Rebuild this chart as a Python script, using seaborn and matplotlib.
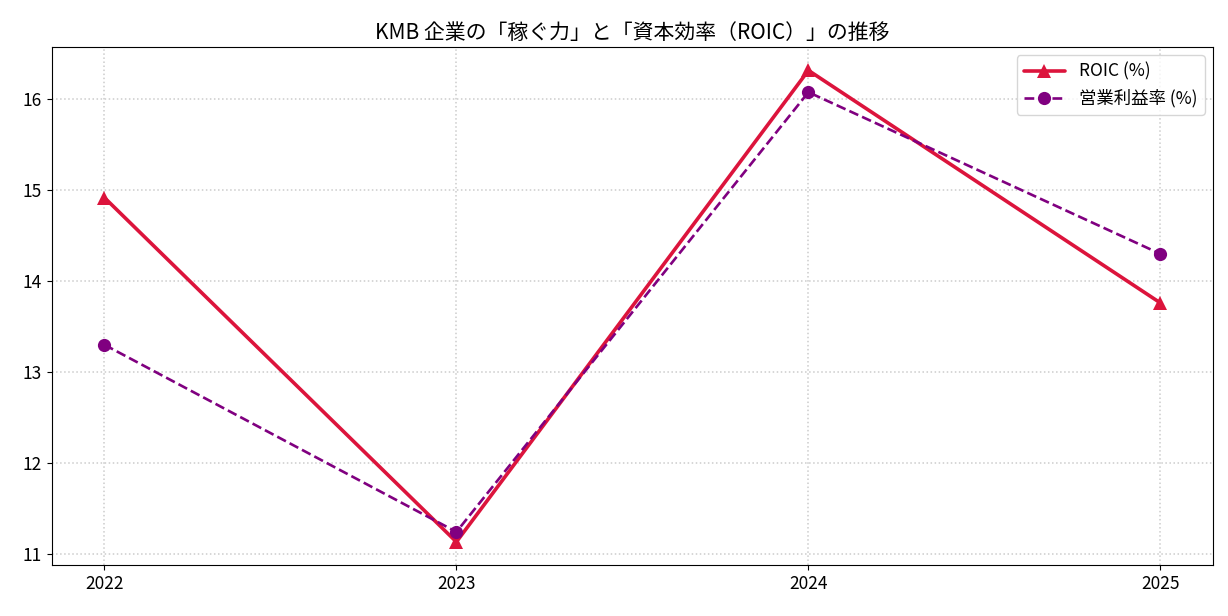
import matplotlib
matplotlib.use("Agg")
import matplotlib.pyplot as plt
import seaborn as sns
import pandas as pd

# values
years = [2022, 2023, 2024, 2025]
roic = [14.92, 11.13, 16.32, 13.76]
op_margin = [13.30, 11.24, 16.08, 14.30]

sns.set_style("ticks")
plt.rcParams['font.family'] = ['Noto Sans CJK JP', 'DejaVu Sans']
plt.rcParams['text.color'] = 'black'
plt.rcParams['xtick.color'] = 'black'
plt.rcParams['ytick.color'] = 'black'
plt.rcParams['axes.labelcolor'] = 'black'

df = pd.DataFrame({"year": years, "roic": roic, "op_margin": op_margin})

fig, ax = plt.subplots(figsize=(12.28, 6.16), dpi=100)

sns.lineplot(data=df, x="year", y="roic", ax=ax, color="crimson", linewidth=2.6,
             marker="^", markersize=9.5, markeredgewidth=0, label="ROIC (%)")
sns.lineplot(data=df, x="year", y="op_margin", ax=ax, color="purple", linewidth=1.9,
             linestyle="--", marker="o", markersize=9.5, markeredgewidth=0,
             label="営業利益率 (%)")

ax.set_xticks(years)
ax.set_xticklabels([str(y) for y in years])
ax.set_xlabel("")
ax.set_ylabel("")
ax.tick_params(labelsize=12.5, colors="black")
ax.grid(True, linestyle=":", color="#cccccc", linewidth=1.1)
for s in ax.spines.values():
    s.set_color("black")
ax.set_title("KMB 企業の「稼ぐ力」と「資本効率（ROIC）」の推移", fontsize=15, color="black")
ax.legend(loc="upper right", fontsize=12.5, handlelength=2.4)

fig.subplots_adjust(left=0.042, right=0.988, top=0.924, bottom=0.082)
fig.savefig("out.png", dpi=100)
